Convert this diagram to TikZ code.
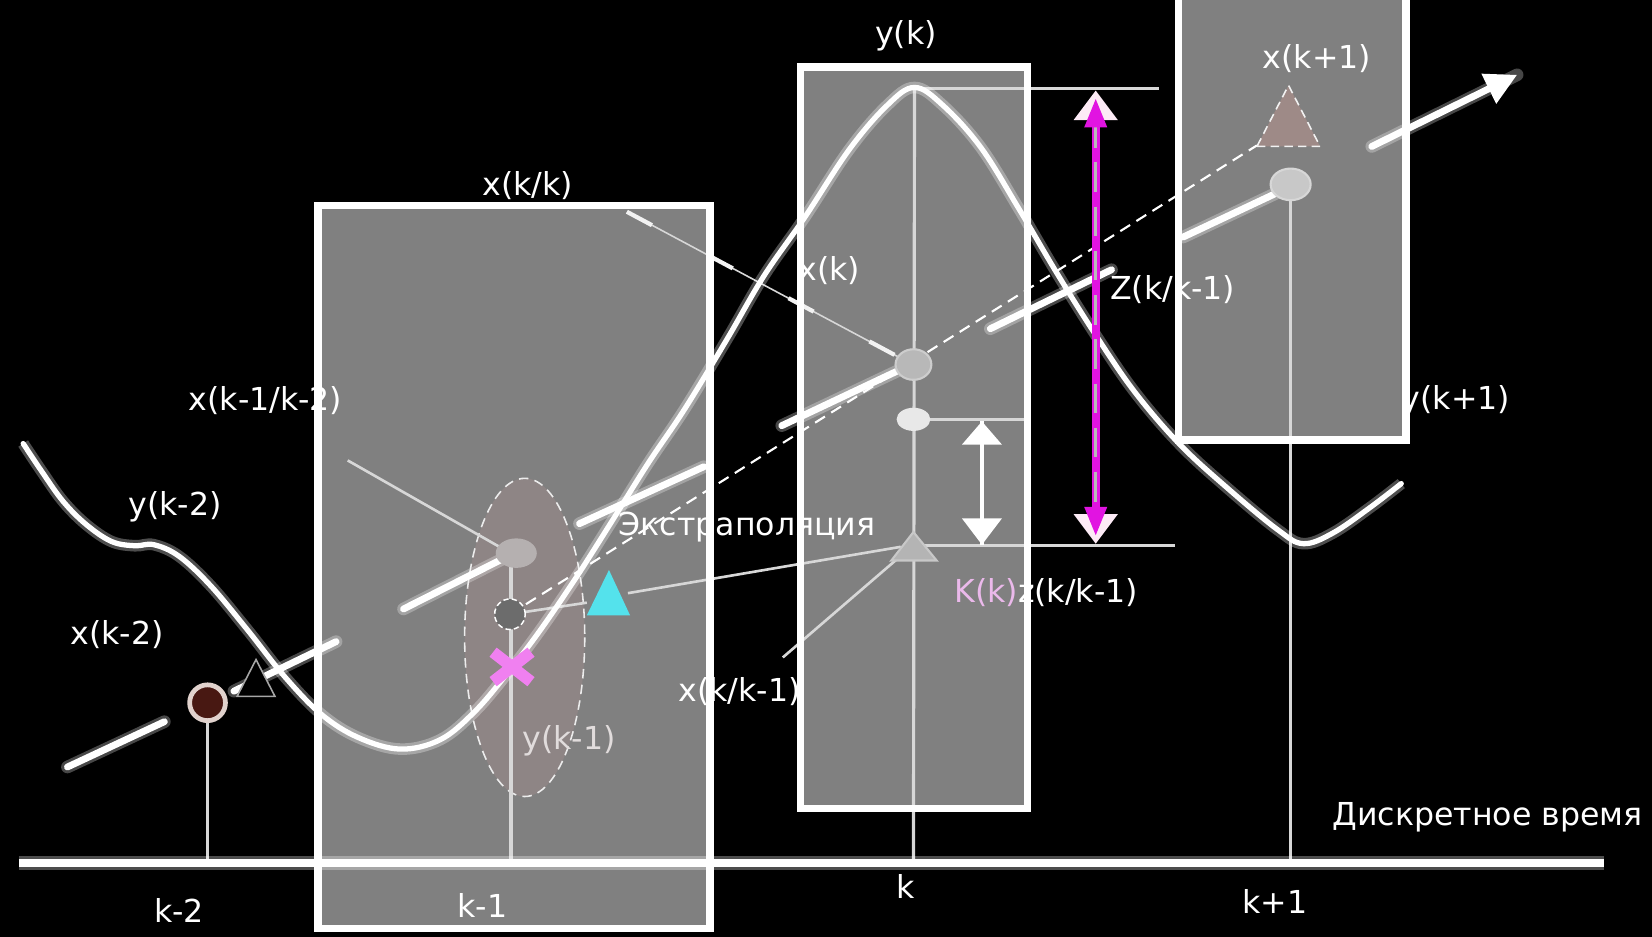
\documentclass[tikz,border=0pt]{standalone}
\usepackage{fontspec}
\setmainfont{DejaVu Sans}
\usetikzlibrary{arrows.meta,shapes.geometric}
\definecolor{boxgray}{RGB}{128,128,128}
\definecolor{tickgray}{RGB}{215,215,215}
\definecolor{brownd}{RGB}{72,24,18}
\definecolor{brownrim}{RGB}{225,210,205}
\definecolor{cyanm}{RGB}{84,226,236}
\definecolor{pinkx}{RGB}{240,128,240}
\definecolor{magm}{RGB}{225,20,225}
\definecolor{kpink}{RGB}{235,185,235}
\definecolor{bigell}{RGB}{142,133,133}
\definecolor{rtri}{RGB}{158,138,135}
\definecolor{dimtxt}{RGB}{225,220,220}
\begin{document}
\begin{tikzpicture}[x=1pt,y=-1pt,
  lbl/.style={text=white,inner sep=0pt,font=\fontsize{30}{36}\selectfont},
  thinln/.style={draw=tickgray,line width=2.5pt},
  seg/.style={draw=white,line width=6.5pt,line cap=round},
  segglow/.style={draw=white,draw opacity=0.28,line width=12pt,line cap=round},
  boxedge/.style={draw=white,line width=7pt},
  tickln/.style={draw=tickgray,line width=3pt},
]
% canvas
\coordinate (bbA) at (0,0);
\coordinate (bbB) at (1568,889);
\useasboundingbox (bbA) rectangle (bbB);
\fill[black] (bbA) rectangle (bbB);

% box fills
\coordinate (r1a) at (302,195);   \coordinate (r1b) at (674,881);
\coordinate (r2a) at (760,63.5);  \coordinate (r2b) at (975.5,767.5);
\coordinate (r3a) at (1118.5,-20);\coordinate (r3b) at (1334.5,417.5);
\fill[boxgray] (r1a) rectangle (r1b);
\fill[boxgray] (r2a) rectangle (r2b);
\fill[boxgray] (r3a) rectangle (r3b);

% big dashed ellipse
\coordinate (bigc) at (498,605);
\draw[fill=bigell,draw=white!85!gray,line width=1.5pt,dash pattern=on 9pt off 6pt]
  (bigc) ellipse [x radius=57, y radius=151];

% markers (positions)
\coordinate (pk) at (868,84);
\coordinate (btri) at (243,645);
\coordinate (cy) at (578,563);
\coordinate (tr2) at (867,519);
\coordinate (r3t) at (1223,110);
\coordinate (px) at (486,633);

% horizontal guide lines
\coordinate (hk1) at (1100,84);
\coordinate (hd0) at (867,398); \coordinate (hd1) at (977,398);
\coordinate (ht0) at (867,518); \coordinate (ht1) at (1115,518);
\draw[tickgray,line width=2.5pt] (pk) -- (hk1);
\draw[tickgray,line width=2.5pt] (hd0) -- (hd1);
\draw[tickgray,line width=2.5pt] (ht0) -- (ht1);

% ticks
\coordinate (t2) at (197,819);
\coordinate (t1) at (485,819); \coordinate (t1top) at (485,537);
\coordinate (tk) at (867,819);
\coordinate (tkp) at (1225,819); \coordinate (tkptop) at (1225,188);
\coordinate (bcpos) at (197,667);
\draw[tickln] (t2) -- (bcpos);
\draw[tickln] (t1) -- (t1top);
\draw[tickln] (tk) -- (pk);
\draw[tickln] (tkp) -- (tkptop);

% thin lines
\coordinate (l1s) at (330,437); \coordinate (l1e) at (474,519);
\coordinate (l2s) at (595,201); \coordinate (l2e) at (855,340);
\coordinate (l4s) at (596,563); \coordinate (l4e) at (855,519);
\coordinate (l5s) at (743,624); \coordinate (l5e) at (858,525);
\coordinate (l3e) at (557,572);
\coordinate (dcpos) at (484,583);
\coordinate (r3tl) at (1193,138);
\draw[thinln] (l1s) -- (l1e);
\draw[tickgray,line width=1.5pt] (l2s) -- (l2e);
\draw[white!90!gray,line width=4pt,dash pattern=on 27pt off 60pt] (l2s) -- (l2e);
\draw[thinln] (l4s) -- (l4e);
\draw[thinln] (l5s) -- (l5e);
\draw[thinln] (dcpos) -- (l3e);
\draw[white,line width=2pt,dash pattern=on 11pt off 7pt] (dcpos) -- (r3tl);

% the curve y(k)
\draw[white,line width=5pt,line cap=round,line join=round,
      preaction={draw=white,draw opacity=0.3,line width=11pt}]
  plot[smooth,tension=0.6] coordinates {
  (22,421) (40,448) (60,476) (82,498) (106,514) (128,518) (146,517)
  (170,528) (200,556) (235,598) (270,642) (305,678) (340,700) (380,711)
  (418,702) (450,676) (480,641) (510,602) (545,551) (580,496) (615,440)
  (650,388) (690,322) (725,262) (764,206) (806,142) (842,100) (868,83)
  (895,100) (931,140) (967,198) (1003,259) (1040,318) (1077,372)
  (1120,422) (1167,465) (1213,503) (1237,516) (1265,506) (1300,482)
  (1330,459)};

% thick trend segments
\coordinate (sa0) at (64,728);   \coordinate (sa1) at (156,685);
\coordinate (sb0) at (222,656);  \coordinate (sb1) at (319,609);
\coordinate (sc0) at (383,578);  \coordinate (sc1) at (476,531);
\coordinate (sd0) at (550,497);  \coordinate (sd1) at (668,443);
\coordinate (se0) at (742,404);  \coordinate (se1) at (852,352);
\coordinate (sf0) at (940,312);  \coordinate (sf1) at (1055,256);
\coordinate (sg0) at (1123,225); \coordinate (sg1) at (1210,184);
\coordinate (sh0) at (1302,139); \coordinate (sh1) at (1440,71);
\foreach \a/\b in {sa0/sa1,sb0/sb1,sc0/sc1,sd0/sd1,se0/se1,sf0/sf1,sg0/sg1}{
  \draw[segglow] (\a) -- (\b);
  \draw[seg] (\a) -- (\b);
}
\draw[segglow] (sh0) -- (sh1);
\draw[seg,-{Triangle[length=30pt,width=30pt]}] (sh0) -- (sh1);

% markers
\node[circle,fill=brownd,draw=brownrim,line width=4.5pt,minimum size=34pt,inner sep=0pt] (bc) at (bcpos) {};
\draw[fill=black,draw=gray!70!white,line width=1.5pt] (btri) ++(-18,16) -- ++(36,0) -- ++(-18,-35) -- cycle;
\node[ellipse,fill={rgb,255:red,181;green,176;blue,176},minimum width=39pt,minimum height=28pt,inner sep=0pt] (e1) at (490,525) {};
\node[circle,fill={rgb,255:red,108;green,108;blue,108},draw=white,line width=1.4pt,dash pattern=on 5pt off 3pt,minimum size=29pt,inner sep=0pt] (dc) at (dcpos) {};
\draw[pinkx,line width=11pt] (px) ++(-18,-14) -- ++(36,28);
\draw[pinkx,line width=11pt] (px) ++(18,-14) -- ++(-36,28);
\fill[cyanm] (cy) ++(-21,21) -- ++(41,0) -- ++(-20,-43) -- cycle;
\node[ellipse,fill={rgb,255:red,184;green,184;blue,184},draw={rgb,255:red,205;green,205;blue,205},line width=2pt,minimum width=34pt,minimum height=29pt,inner sep=0pt] (e2) at (867,346) {};
\node[ellipse,fill={rgb,255:red,232;green,232;blue,232},minimum width=32pt,minimum height=22pt,inner sep=0pt] (e2b) at (hd0) {};
\draw[fill={rgb,255:red,180;green,180;blue,180},draw={rgb,255:red,200;green,200;blue,200},line width=2pt] (tr2) ++(-21,13) -- ++(43,0) -- ++(-22,-27) -- cycle;
\draw[fill=rtri,draw=white!90!gray,line width=1.5pt,dash pattern=on 8pt off 5pt] (r3t) ++(-30,29) -- ++(60,0) -- ++(-30,-58) -- cycle;
\node[ellipse,fill={rgb,255:red,200;green,200;blue,200},draw={rgb,255:red,215;green,215;blue,215},line width=2pt,minimum width=38pt,minimum height=30pt,inner sep=0pt] (e3) at (1225,175) {};

% white double arrow
\coordinate (wa1) at (932,400); \coordinate (wa2) at (932,517);
\draw[white,line width=3pt] (wa1) -- (wa2);
\fill[white] (wa1) -- ++(-19,22) -- ++(38,0) -- cycle;
\fill[white] (wa2) -- ++(-19,-25) -- ++(38,0) -- cycle;

% magenta double arrow
\coordinate (mt) at (1040,86); \coordinate (mb) at (1040,516);
\coordinate (ms0) at (1040,112); \coordinate (ms1) at (1040,490);
\draw[magm,line width=8pt] (ms0) -- (ms1);
\draw[gray!55!white,line width=3pt,dash pattern=on 28pt off 14pt] (ms0) -- (ms1);
\fill[white!92!magenta] (mt) -- ++(-21,28) -- ++(42,0) -- cycle;
\fill[magm] (mt) ++(0,8) -- ++(-11,27) -- ++(22,0) -- cycle;
\fill[white!92!magenta] (mb) -- ++(-21,-28) -- ++(42,0) -- cycle;
\fill[magm] (mb) ++(0,-8) -- ++(-11,-27) -- ++(22,0) -- cycle;

% labels
\node[lbl] (tyk) at (860,34) {y(k)};
\node[lbl] (txk1) at (1250,56) {x(k+1)};
\node[lbl] (txkk) at (501,176) {x(k/k)};
\node[lbl] (txk) at (787,257) {x(k)};
\node[lbl] (tz) at (1113,275) {Z(k/k-1)};
\node[lbl] (tyk1) at (1382,380) {y(k+1)};
\node[lbl] (txk1k2) at (252,380) {x(k-1/k-2)};
\node[lbl] (tyk2) at (166,481) {y(k-2)};
\node[lbl] (txk2) at (111,602) {x(k-2)};
\node[lbl] (textr) at (709,500) {Экстраполяция};
\node[lbl] (txkk1) at (702,656) {x(k/k-1)};
\node[lbl,text=dimtxt] (tykm1) at (540,703) {y(k-1)};
\node[lbl] (tkz) at (993,562) {\textcolor{kpink}{K(k)}z(k/k-1)};
\node[lbl] (lk2) at (170,864) {k-2};
\node[lbl] (lk1) at (458,859) {k-1};
\node[lbl] (lk) at (860,841) {k};
\node[lbl] (lkp1) at (1210,856) {k+1};
\node[lbl] (ltime) at (1412,776) {Дискретное время};

% box borders
\draw[boxedge] (r1a) rectangle (r1b);
\draw[boxedge] (r2a) rectangle (r2b);
\draw[boxedge] (r3a) rectangle (r3b);

% time axis
\coordinate (ax0) at (18,819); \coordinate (ax1) at (1522,819);
\draw[white,draw opacity=0.3,line width=14pt] (ax0) -- (ax1);
\draw[white,line width=8pt] (ax0) -- (ax1);
\end{tikzpicture}
\end{document}
